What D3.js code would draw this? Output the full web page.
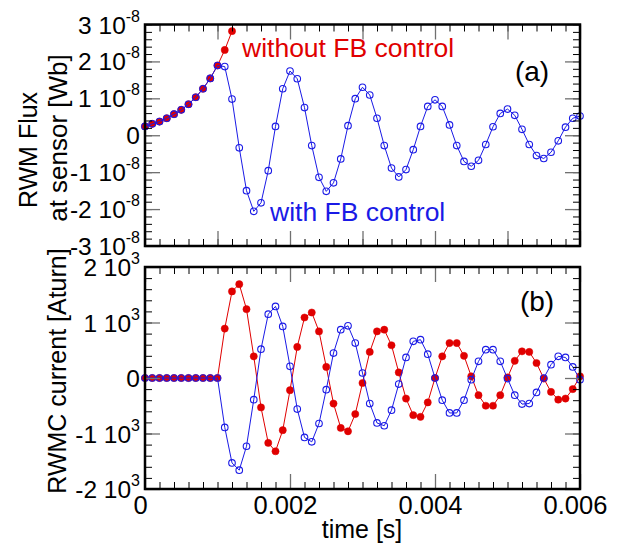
<!DOCTYPE html>
<html>
<head>
<meta charset="utf-8">
<script src="https://cdn.jsdelivr.net/npm/d3@7"></script>
<style>
  html, body { margin: 0; padding: 0; background: #fff; }
  svg { display: block; font-family: "Liberation Sans", Arial, Helvetica, sans-serif; }
</style>
</head>
<body>
<svg id="chart" width="620" height="544"></svg>
<script>
// Sample times [s], one sample every 0.1 ms
const time = d3.range(61).map(i => +(i * 1e-4).toFixed(4));

// (a) RWM flux at the sensor, in units of 1e-8 Wb
const fluxWithFB = [
  0.24, 0.31, 0.37, 0.46, 0.57, 0.69, 0.84, 1.03, 1.26, 1.54, 1.89,
  1.86, 0.98, -0.34, -1.50, -2.06, -1.83, -0.96, 0.24, 1.26, 1.74,
  1.53, 0.75, -0.28, -1.14, -1.52, -1.29, -0.64, 0.26, 0.99, 1.30,
  1.09, 0.46, -0.28, -0.89, -1.13, -0.93, -0.39, 0.24, 0.78, 0.96,
  0.78, 0.28, -0.28, -0.71, -0.84, -0.68, -0.25, 0.23, 0.59, 0.71,
  0.54, 0.16, -0.25, -0.55, -0.63, -0.46, -0.15, 0.22, 0.46, 0.52
];
const fluxWithoutFB = [
  0.24, 0.31, 0.37, 0.46, 0.57, 0.69, 0.84, 1.03, 1.26, 1.54, 1.89,
  2.31, 2.82
];

// (b) RWM coil currents, in units of 1e3 Aturn
const currentBlue = [
  0, 0, 0, 0, 0, 0, 0, 0, 0, 0, 0,
  -0.89, -1.53, -1.66, -1.23, -0.39, 0.52, 1.15, 1.29, 0.93, 0.21,
  -0.56, -1.07, -1.15, -0.82, -0.21, 0.45, 0.87, 0.94, 0.63, 0.09,
  -0.46, -0.81, -0.86, -0.58, -0.11, 0.37, 0.66, 0.69, 0.43, 0.00,
  -0.40, -0.63, -0.63, -0.40, -0.03, 0.30, 0.51, 0.51, 0.30, -0.01,
  -0.31, -0.47, -0.46, -0.26, 0.00, 0.24, 0.39, 0.37, 0.20, -0.03
];
const currentRed = [
  0, 0, 0, 0, 0, 0, 0, 0, 0, 0, 0,
  0.89, 1.56, 1.69, 1.24, 0.39, -0.53, -1.17, -1.32, -0.94, -0.22,
  0.56, 1.09, 1.18, 0.84, 0.20, -0.46, -0.90, -0.96, -0.65, -0.09,
  0.47, 0.84, 0.87, 0.59, 0.10, -0.37, -0.67, -0.70, -0.44, 0.00,
  0.39, 0.63, 0.63, 0.40, 0.03, -0.31, -0.50, -0.50, -0.31, 0.01,
  0.31, 0.48, 0.47, 0.27, -0.01, -0.25, -0.39, -0.37, -0.20, 0.03
];

// Axis ticks and labels
const xTickLabels = [0, 0.002, 0.004, 0.006];
const fluxTicks = [-3, -2, -1, 0, 1, 2, 3];
const currentTicks = [-2, -1, 0, 1, 2];
const fluxExponent = "-8";
const currentExponent = "3";

const RED = "#e00000";
const BLUE = "#1a1ae6";
const MAJOR_COLOR = "#707070";
const FONT = "Liberation Sans, Arial, sans-serif";

const svg = d3.select("#chart");

const x = d3.scaleLinear().domain([0, 0.006]).range([145, 580]);
const yA = d3.scaleLinear().domain([-3, 3]).range([246, 24.5]);
const yB = d3.scaleLinear().domain([-2, 2]).range([489, 267]);

function stepValues(lo, hi, step) {
  const n = Math.round((hi - lo) / step);
  return d3.range(n + 1).map(i => +(lo + i * step).toFixed(10));
}

function drawFrame(g, y, yMajors, yMinorStep, xMajorStep, showXLabels, exponent) {
  const [x0, x1] = x.range();
  const [yb, yt] = y.range();
  const xMinors = stepValues(0, 0.006, 0.0002);
  const xMajors = stepValues(0, 0.006, xMajorStep);
  const yDom = y.domain();
  const yMinors = stepValues(yDom[0], yDom[1], yMinorStep);

  const minorLen = 7, majorLen = 15;
  const addAxis = (axis, transform, color, width) => {
    const a = g.append("g").attr("transform", transform).call(axis);
    a.select(".domain").remove();
    a.selectAll(".tick line").attr("stroke", color).attr("stroke-width", width);
    return a;
  };

  // minor ticks, all four sides, pointing inward
  addAxis(d3.axisBottom(x).tickValues(xMinors).tickSize(-minorLen).tickFormat(""), `translate(0,${yb})`, "#000", 1);
  addAxis(d3.axisTop(x).tickValues(xMinors).tickSize(-minorLen).tickFormat(""), `translate(0,${yt})`, "#000", 1);
  addAxis(d3.axisLeft(y).tickValues(yMinors).tickSize(-minorLen).tickFormat(""), `translate(${x0},0)`, "#000", 1);
  addAxis(d3.axisRight(y).tickValues(yMinors).tickSize(-minorLen).tickFormat(""), `translate(${x1},0)`, "#000", 1);

  // major ticks
  const bottom = addAxis(
    d3.axisBottom(x).tickValues(xMajors).tickSize(-majorLen)
      .tickFormat(d => showXLabels && xTickLabels.includes(d) ? d3.format("")(d) : ""),
    `translate(0,${yb})`, MAJOR_COLOR, 1.3);
  addAxis(d3.axisTop(x).tickValues(xMajors).tickSize(-majorLen).tickFormat(""), `translate(0,${yt})`, MAJOR_COLOR, 1.3);
  const left = addAxis(d3.axisLeft(y).tickValues(yMajors).tickSize(-majorLen).tickPadding(5),
    `translate(${x0},0)`, MAJOR_COLOR, 1.3);
  addAxis(d3.axisRight(y).tickValues(yMajors).tickSize(-majorLen).tickFormat(""), `translate(${x1},0)`, MAJOR_COLOR, 1.3);

  bottom.selectAll(".tick text")
    .attr("fill", "#000")
    .attr("font-size", 25.5)
    .attr("font-family", FONT)
    .attr("dy", null)
    .attr("y", 25)
    .attr("dx", -5);

  // y labels as "m 10^e"
  left.selectAll(".tick text")
    .attr("fill", "#000")
    .attr("font-size", 24.5)
    .attr("font-family", FONT)
    .attr("dy", "0.35em")
    .each(function (d) {
      const t = d3.select(this);
      t.text(null);
      if (d === 0) {
        t.append("tspan").text("0");
      } else {
        t.append("tspan").text(`${d} 10`);
        t.append("tspan").attr("font-size", 16).attr("dy", "-0.75em").text(exponent);
      }
    });

  // frame
  g.append("rect")
    .attr("x", x0).attr("y", yt)
    .attr("width", x1 - x0).attr("height", yb - yt)
    .attr("fill", "none").attr("stroke", "#000").attr("stroke-width", 2.5);
}

function drawSeries(g, y, values, color, filled) {
  const pts = values.map((v, i) => [time[i], v]);
  const line = d3.line().x(d => x(d[0])).y(d => y(d[1]));
  g.append("path").datum(pts)
    .attr("d", line).attr("fill", "none")
    .attr("stroke", color).attr("stroke-width", 1);
  g.selectAll(null).data(pts).enter().append("circle")
    .attr("cx", d => x(d[0])).attr("cy", d => y(d[1]))
    .attr("r", filled ? 3.6 : 3.3)
    .attr("fill", filled ? color : "none")
    .attr("stroke", color)
    .attr("stroke-width", filled ? 0.5 : 1.1);
}

// ---- panel (a) ----
const gA = svg.append("g");
drawSeries(gA, yA, fluxWithoutFB, RED, true);
drawSeries(gA, yA, fluxWithFB, BLUE, false);
drawFrame(gA, yA, fluxTicks, 0.2, 0.001, false, fluxExponent);

gA.append("text").attr("x", 242).attr("y", 57)
  .attr("font-size", 26.5).attr("fill", RED).text("without FB control");
gA.append("text").attr("x", 270).attr("y", 221)
  .attr("font-size", 26.5).attr("fill", BLUE).text("with FB control");
gA.append("text").attr("x", 532).attr("y", 81).attr("text-anchor", "middle")
  .attr("font-size", 28).attr("fill", "#000").text("(a)");

gA.append("text").attr("transform", "translate(28,150) rotate(-90)")
  .attr("text-anchor", "middle").attr("dominant-baseline", "central")
  .attr("font-size", 25).text("RWM Flux");
gA.append("text").attr("transform", "translate(58,138) rotate(-90)")
  .attr("text-anchor", "middle").attr("dominant-baseline", "central")
  .attr("font-size", 26).text("at sensor [Wb]");

// ---- panel (b) ----
const gB = svg.append("g");
drawSeries(gB, yB, currentRed, RED, true);
drawSeries(gB, yB, currentBlue, BLUE, false);
drawFrame(gB, yB, currentTicks, 0.2, 0.002, true, currentExponent);

gB.append("text").attr("x", 537).attr("y", 311).attr("text-anchor", "middle")
  .attr("font-size", 28).attr("fill", "#000").text("(b)");

gB.append("text").attr("transform", "translate(57,371) rotate(-90)")
  .attr("text-anchor", "middle").attr("dominant-baseline", "central")
  .attr("font-size", 25).text("RWMC current [Aturn]");

svg.append("text").attr("x", 362).attr("y", 538).attr("text-anchor", "middle")
  .attr("font-size", 25).text("time [s]");
</script>
</body>
</html>
